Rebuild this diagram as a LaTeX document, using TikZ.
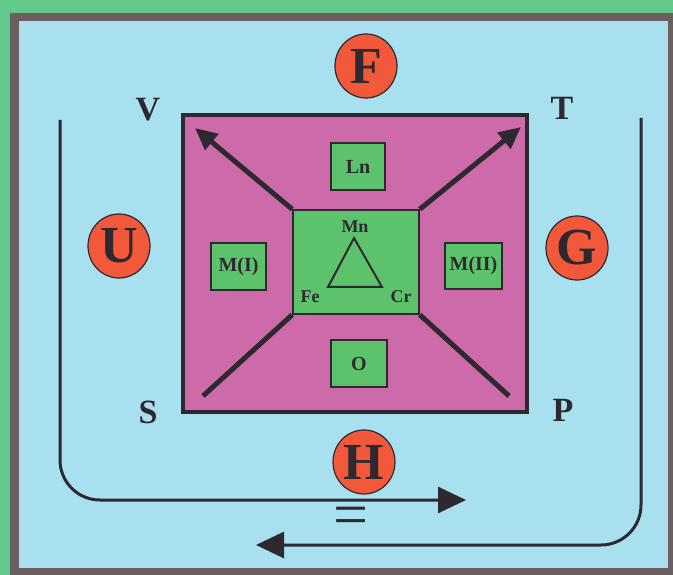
\documentclass[tikz,border=0pt]{standalone}
\usepackage{fontspec}
\setmainfont{Liberation Serif}
\usetikzlibrary{positioning,arrows.meta,shapes.geometric,calc}
\definecolor{outgreen}{HTML}{62C98A}
\definecolor{framegrey}{HTML}{6B5E5E}
\definecolor{sky}{HTML}{A8E0F0}
\definecolor{plum}{HTML}{CC6AAA}
\definecolor{leaf}{HTML}{5DC26C}
\definecolor{tomato}{HTML}{F2583A}
\definecolor{ink}{HTML}{2E2830}
\tikzset{
  site/.style  = {draw=ink, line width=1.6pt, fill=leaf, inner sep=0pt,
                  font=\bfseries\fontsize{20}{20}\selectfont, text=ink},
  ion/.style   = {draw=ink, line width=1.2pt, fill=tomato, ellipse,
                  minimum width=62pt, minimum height=64pt, inner sep=0pt,
                  font=\bfseries\fontsize{52}{52}\selectfont, text=ink},
  corner/.style= {font=\bfseries\fontsize{34}{34}\selectfont, text=ink, inner sep=0pt},
  elem/.style  = {font=\bfseries\fontsize{18}{18}\selectfont, text=ink, inner sep=0pt},
  ax/.style    = {line width=5pt, draw=ink, -{Triangle[length=22pt,width=20pt]}},
  leg/.style   = {line width=5pt, draw=ink},
  flow/.style  = {line width=3pt, draw=ink, rounded corners=40pt,
                  -{Triangle[length=28pt,width=26pt]}},
}
\begin{document}
\begin{tikzpicture}[x=1pt,y=-1pt]
\useasboundingbox (0,0) rectangle (673,575);
\fill[outgreen] (0,0) rectangle (673,575);
\fill[framegrey] (10,13) rectangle (673,575);
\fill[sky] (19,21) rectangle (668,568);

% unit cell and sites
\node[draw=ink, line width=4pt, fill=plum, minimum width=344pt, minimum height=297pt,
      inner sep=0pt] (cell) at (355,263.5) {};
\node[site, minimum width=126pt, minimum height=104pt] (core) at (356,262) {};
\node[site, minimum width=54pt, minimum height=47pt] (ln) at (358,166.5) {Ln};
\node[site, minimum width=56pt, minimum height=47pt] (ox) at (359,363.5) {O};
\node[site, minimum width=55pt, minimum height=47pt] (m1) at (238.5,266.5) {M(I)};
\node[site, minimum width=57pt, minimum height=46pt] (m2) at (473.5,266) {M(II)};

% triangle of the core
\coordinate (mnv) at (354,238);
\coordinate (fev) at (328,287);
\coordinate (crv) at (382,287);
\draw[ink, line width=2pt] (mnv) -- (fev) -- (crv) -- cycle;
\node[elem] (mn) at (355,227) {Mn};
\node[elem] (fe) at (310,297) {Fe};
\node[elem] (cr) at (401,297) {Cr};

% diagonals
\coordinate (vend) at (195,128);
\coordinate (tend) at (521,127);
\coordinate (send) at (203,396);
\coordinate (pend) at (509,396);
\draw[ax] (core.north west) -- (vend);
\draw[ax] (core.north east) -- (tend);
\draw[leg] (core.south west) -- (send);
\draw[leg] (core.south east) -- (pend);

% ions
\node[ion] (f) at (366,66) {F};
\node[ion] (u) at (119,246) {U};
\node[ion] (g) at (577,248) {G};
\node[ion] (h) at (364,462) {H};

\node[corner] (v) at (148,110) {V};
\node[corner] (t) at (562,108) {T};
\node[corner] (s) at (148,412) {S};
\node[corner] (p) at (563,410) {P};

% equilibrium
\coordinate (la) at (60,120);
\coordinate (lb) at (466,500);
\coordinate (ra) at (641,118);
\coordinate (rb) at (256,545);
\draw[flow] (la) |- (lb);
\draw[flow] (ra) |- (rb);
\node[font=\fontsize{62}{62}\selectfont, text=ink, inner sep=0pt] (eq) at (351,521) {=};
\end{tikzpicture}
\end{document}
